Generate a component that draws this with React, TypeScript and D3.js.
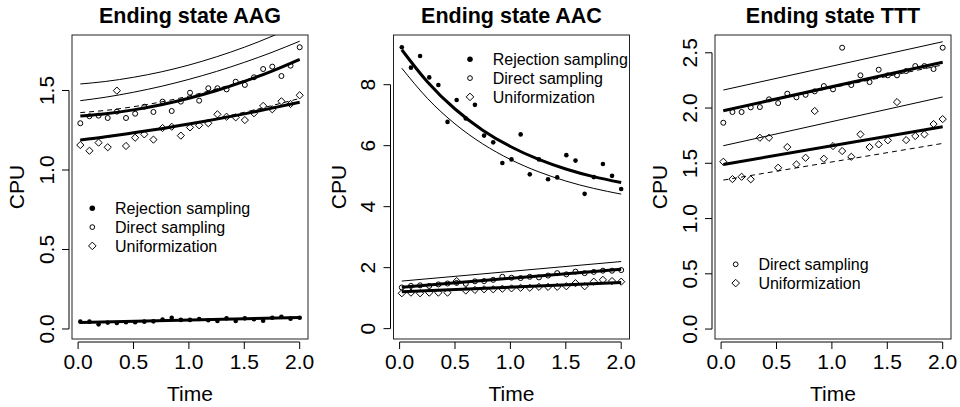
import React from "react";
import * as d3 from "d3";

// ---------- data ----------
const times = [0.02, 0.1025, 0.185, 0.2675, 0.35, 0.4325, 0.515, 0.5975, 0.68, 0.7625, 0.845, 0.9275, 1.01, 1.0925, 1.175, 1.2575, 1.34, 1.4225, 1.505, 1.5875, 1.67, 1.7525, 1.835, 1.9175, 2.0];
const fitTimes = [0.02, 0.25, 0.5, 0.75, 1.0, 1.25, 1.5, 1.75, 2.0];
const lineTimes = [0.02, 2.0];

// Ending state AAG
const aagRejection = [0.046, 0.046, 0.029, 0.04, 0.038, 0.042, 0.042, 0.046, 0.048, 0.059, 0.071, 0.057, 0.057, 0.063, 0.055, 0.05, 0.067, 0.05, 0.067, 0.061, 0.052, 0.071, 0.077, 0.065, 0.071];
const aagDirect = [1.294, 1.338, 1.342, 1.327, 1.367, 1.327, 1.354, 1.398, 1.365, 1.43, 1.371, 1.43, 1.486, 1.436, 1.514, 1.514, 1.507, 1.555, 1.535, 1.583, 1.635, 1.65, 1.591, 1.656, 1.772];
const aagUniform = [1.157, 1.121, 1.172, 1.143, 1.499, 1.151, 1.203, 1.224, 1.191, 1.264, 1.272, 1.216, 1.268, 1.281, 1.294, 1.35, 1.335, 1.331, 1.314, 1.357, 1.403, 1.382, 1.432, 1.415, 1.47];
const aagRejectionFit = [0.04, 0.073];
const aagDirectFit = [1.339, 1.354, 1.378, 1.41, 1.451, 1.5, 1.557, 1.622, 1.696];
const aagDirectFitDashed = [1.361, 1.375, 1.398, 1.428, 1.465, 1.51, 1.563, 1.623, 1.69];
const aagUpperA = [1.541, 1.557, 1.583, 1.617, 1.66, 1.712, 1.772, 1.841, 1.919];
const aagUpperB = [1.436, 1.458, 1.489, 1.526, 1.57, 1.62, 1.677, 1.74, 1.81];
const aagUniformFit = [1.189, 1.209, 1.234, 1.26, 1.289, 1.32, 1.353, 1.389, 1.426];
const aagUniformFitDashed = [1.187, 1.206, 1.231, 1.259, 1.29, 1.325, 1.363, 1.405, 1.45];

// Ending state AAC
const aacRejection = [9.23, 8.56, 8.94, 8.24, 7.99, 6.78, 7.5, 6.89, 7.34, 6.33, 6.11, 5.43, 5.55, 6.37, 5.06, 5.55, 4.9, 4.96, 5.69, 5.51, 4.42, 4.97, 5.4, 5.01, 4.58];
const aacDirect = [1.35, 1.4, 1.42, 1.4, 1.45, 1.48, 1.5, 1.47, 1.55, 1.56, 1.6, 1.7, 1.67, 1.66, 1.7, 1.68, 1.74, 1.82, 1.78, 1.87, 1.82, 1.86, 1.9, 1.9, 1.92];
const aacUniform = [1.16, 1.18, 1.16, 1.18, 1.18, 1.18, 1.56, 1.25, 1.27, 1.29, 1.29, 1.31, 1.32, 1.34, 1.34, 1.37, 1.37, 1.37, 1.39, 1.49, 1.39, 1.54, 1.6, 1.56, 1.54];
const aacRejectionFit = [9.146, 8.096, 7.203, 6.51, 5.973, 5.557, 5.235, 4.985, 4.791];
const aacRejectionThin = [8.541, 7.557, 6.715, 6.059, 5.548, 5.15, 4.841, 4.6, 4.411];
const aacUpperLine = [1.56, 2.2];
const aacDirectFit = [1.36, 1.95];
const aacUniformFit = [1.21, 1.51];

// Ending state TTT
const tttDirect = [1.867, 1.964, 1.964, 2.006, 2.009, 2.079, 2.045, 2.13, 2.097, 2.12, 2.151, 2.199, 2.169, 2.546, 2.208, 2.296, 2.235, 2.347, 2.296, 2.296, 2.335, 2.38, 2.38, 2.353, 2.546];
const tttUniform = [1.514, 1.357, 1.378, 1.355, 1.731, 1.731, 1.46, 1.647, 1.49, 1.55, 1.973, 1.541, 1.656, 1.611, 1.559, 1.762, 1.647, 1.671, 1.708, 2.054, 1.71, 1.747, 1.762, 1.855, 1.9];
const tttDirectUpper = [2.163, 2.6];
const tttDirectFit = [1.976, 2.414];
const tttDirectFitDashed = [1.98, 2.39];
const tttUniformUpper = [1.659, 2.1];
const tttUniformFit = [1.49, 1.831];
const tttUniformFitDashed = [1.348, 1.68];

const xTicks = [0, 0.5, 1, 1.5, 2];
const aagYTicks = [0, 0.5, 1, 1.5];
const aacYTicks = [0, 2, 4, 6, 8];
const tttYTicks = [0, 0.5, 1, 1.5, 2, 2.5];

const titles = ["Ending state AAG", "Ending state AAC", "Ending state TTT"];
const legendLabels = ["Rejection sampling", "Direct sampling", "Uniformization"];

// ---------- layout ----------
const W = 960;
const H = 407;
const BOX_W = 236;
const TOP = 35;
const BOTTOM = 339;
const FONT = "'Liberation Sans', Arial, Helvetica, sans-serif";

type Shape = "dot" | "circle" | "diamond";
type Fit = { t: number[]; v: number[]; style: "thick" | "thin" | "dashed" };
type Panel = {
  title: string;
  left: number;
  yDomain: [number, number];
  yTicks: number[];
  fmt: (v: number) => string;
  series: { values: number[]; shape: Shape }[];
  fits: Fit[];
  legend: { shape: Shape; label: string }[];
  legendX: number;
  legendY: number;
};

const f1 = d3.format(".1f");
const f0 = d3.format("d");

const panels: Panel[] = [
  {
    title: titles[0],
    left: 72,
    yDomain: [-0.063, 1.849],
    yTicks: aagYTicks,
    fmt: f1,
    series: [
      { values: aagRejection, shape: "dot" },
      { values: aagDirect, shape: "circle" },
      { values: aagUniform, shape: "diamond" },
    ],
    fits: [
      { t: lineTimes, v: aagRejectionFit, style: "thick" },
      { t: fitTimes, v: aagUpperA, style: "thin" },
      { t: fitTimes, v: aagUpperB, style: "thin" },
      { t: fitTimes, v: aagDirectFitDashed, style: "dashed" },
      { t: fitTimes, v: aagDirectFit, style: "thick" },
      { t: fitTimes, v: aagUniformFitDashed, style: "dashed" },
      { t: fitTimes, v: aagUniformFit, style: "thick" },
    ],
    legend: [
      { shape: "dot", label: legendLabels[0] },
      { shape: "circle", label: legendLabels[1] },
      { shape: "diamond", label: legendLabels[2] },
    ],
    legendX: 92.3,
    legendY: 208.3,
  },
  {
    title: titles[1],
    left: 393.5,
    yDomain: [-0.34, 9.63],
    yTicks: aacYTicks,
    fmt: f0,
    series: [
      { values: aacRejection, shape: "dot" },
      { values: aacDirect, shape: "circle" },
      { values: aacUniform, shape: "diamond" },
    ],
    fits: [
      { t: fitTimes, v: aacRejectionThin, style: "thin" },
      { t: fitTimes, v: aacRejectionFit, style: "thick" },
      { t: lineTimes, v: aacUpperLine, style: "thin" },
      { t: lineTimes, v: aacDirectFit, style: "thick" },
      { t: lineTimes, v: aacUniformFit, style: "thick" },
    ],
    legend: [
      { shape: "dot", label: legendLabels[0] },
      { shape: "circle", label: legendLabels[1] },
      { shape: "diamond", label: legendLabels[2] },
    ],
    legendX: 470,
    legendY: 59.3,
  },
  {
    title: titles[2],
    left: 715,
    yDomain: [-0.09, 2.661],
    yTicks: tttYTicks,
    fmt: f1,
    series: [
      { values: tttDirect, shape: "circle" },
      { values: tttUniform, shape: "diamond" },
    ],
    fits: [
      { t: lineTimes, v: tttDirectUpper, style: "thin" },
      { t: lineTimes, v: tttDirectFitDashed, style: "dashed" },
      { t: lineTimes, v: tttDirectFit, style: "thick" },
      { t: lineTimes, v: tttUniformUpper, style: "thin" },
      { t: lineTimes, v: tttUniformFitDashed, style: "dashed" },
      { t: lineTimes, v: tttUniformFit, style: "thick" },
    ],
    legend: [
      { shape: "circle", label: legendLabels[1] },
      { shape: "diamond", label: legendLabels[2] },
    ],
    legendX: 735.7,
    legendY: 264.3,
  },
];

function Marker({ shape, x, y, s = 1 }: { shape: Shape; x: number; y: number; s?: number }) {
  if (shape === "dot") return <circle cx={x} cy={y} r={2.3 * s} fill="#000" />;
  if (shape === "circle") return <circle cx={x} cy={y} r={2.5 * s} fill="none" stroke="#000" strokeWidth={1} />;
  const d = 3.6 * s;
  return (
    <path
      d={`M${x},${y - d}L${x + d},${y}L${x},${y + d}L${x - d},${y}Z`}
      fill="none"
      stroke="#000"
      strokeWidth={1}
    />
  );
}

function PanelView({ p, i }: { p: Panel; i: number }) {
  const x = d3.scaleLinear().domain([-0.055, 2.075]).range([p.left, p.left + BOX_W]);
  const y = d3.scaleLinear().domain(p.yDomain).range([BOTTOM, TOP]);
  const cx = p.left + BOX_W / 2;
  const axisY = BOTTOM + 3;
  const axisX = p.left - 3;
  const clipId = `clip${i}`;
  return (
    <g>
      <defs>
        <clipPath id={clipId}>
          <rect x={p.left} y={TOP} width={BOX_W} height={BOTTOM - TOP} />
        </clipPath>
      </defs>
      <text x={cx} y={23} textAnchor="middle" fontFamily={FONT} fontWeight="bold" fontSize={21.5}>
        {p.title}
      </text>
      <rect x={p.left} y={TOP} width={BOX_W} height={BOTTOM - TOP} fill="none" stroke="#222" strokeWidth={1} />
      {/* x axis */}
      <line x1={x(0)} x2={x(2)} y1={axisY} y2={axisY} stroke="#000" />
      {xTicks.map((t) => (
        <g key={t}>
          <line x1={x(t)} x2={x(t)} y1={axisY} y2={axisY + 7} stroke="#000" />
          <text x={x(t)} y={369} textAnchor="middle" fontFamily={FONT} fontSize={21}>
            {f1(t)}
          </text>
        </g>
      ))}
      <text x={cx} y={401} textAnchor="middle" fontFamily={FONT} fontSize={21}>
        Time
      </text>
      {/* y axis */}
      <line x1={axisX} x2={axisX} y1={y(p.yTicks[0])} y2={y(p.yTicks[p.yTicks.length - 1])} stroke="#000" />
      {p.yTicks.map((t) => (
        <g key={t}>
          <line x1={axisX - 7} x2={axisX} y1={y(t)} y2={y(t)} stroke="#000" />
          <text
            transform={`translate(${p.left - 18.5},${y(t)}) rotate(-90)`}
            textAnchor="middle"
            fontFamily={FONT}
            fontSize={21}
          >
            {p.fmt(t)}
          </text>
        </g>
      ))}
      <text
        transform={`translate(${p.left - 48},${(TOP + BOTTOM) / 2}) rotate(-90)`}
        textAnchor="middle"
        fontFamily={FONT}
        fontSize={21}
      >
        CPU
      </text>
      {/* fits */}
      <g clipPath={`url(#${clipId})`}>
        {p.fits.map((f, k) => {
          const line = d3
            .line<number>()
            .x((_, j) => x(f.t[j]))
            .y((v) => y(v))
            .curve(f.v.length > 2 ? d3.curveNatural : d3.curveLinear);
          return (
            <path
              key={k}
              d={line(f.v) || ""}
              fill="none"
              stroke="#000"
              strokeWidth={f.style === "thick" ? 3 : 1}
              strokeDasharray={f.style === "dashed" ? "5,4" : undefined}
            />
          );
        })}
        {p.series.map((s, k) => (
          <g key={k}>
            {s.values.map((v, j) => (
              <Marker key={j} shape={s.shape} x={x(times[j])} y={y(v)} />
            ))}
          </g>
        ))}
      </g>
      {/* legend */}
      {p.legend.map((l, k) => (
        <g key={k}>
          <Marker shape={l.shape} x={p.legendX} y={p.legendY + k * 18.8} s={l.shape === "dot" ? 1.2 : l.shape === "diamond" ? 1.05 : 0.95} />
          <text x={p.legendX + 22.7} y={p.legendY + k * 18.8 + 5.8} fontFamily={FONT} fontSize={16}>
            {l.label}
          </text>
        </g>
      ))}
    </g>
  );
}

export default function App() {
  return (
    <svg width={W} height={H} style={{ display: "block", position: "absolute", left: 0, top: 0, background: "#fff" }}>
      <rect width={W} height={H} fill="#fff" />
      {panels.map((p, i) => (
        <PanelView key={i} p={p} i={i} />
      ))}
    </svg>
  );
}
